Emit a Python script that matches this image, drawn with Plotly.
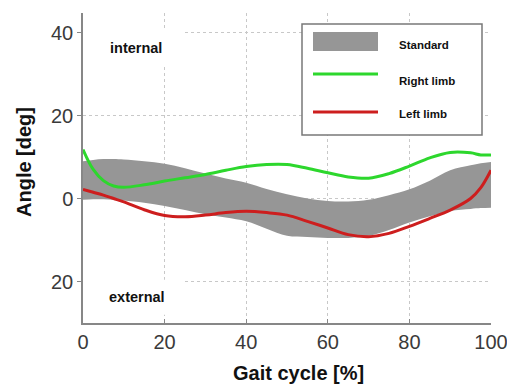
import plotly.graph_objects as go

# ---- data ----
gait_x = [0, 2.5, 5, 7.5, 10, 15, 20, 25, 30, 35, 40, 45, 50, 55, 60, 65, 70, 75, 80, 85, 90, 95, 97.5, 100]

right_limb = [11.8, 7.0, 4.3, 3.0, 2.7, 3.3, 4.2, 5.0, 5.8, 6.8, 7.7, 8.2, 8.2, 7.3, 6.2, 5.2, 4.9, 6.0, 7.8, 9.8, 11.1, 11.0, 10.5, 10.5]
left_limb = [2.2, 1.5, 0.8, 0.0, -0.8, -2.7, -4.1, -4.4, -4.0, -3.4, -3.1, -3.4, -4.0, -5.5, -7.1, -8.7, -9.2, -8.4, -6.7, -4.8, -2.8, 0.0, 2.6, 6.8]
standard_upper = [9.0, 9.3, 9.5, 9.5, 9.4, 9.0, 8.4, 7.3, 6.0, 4.8, 3.8, 2.3, 1.0, 0.0, -0.6, -0.7, -0.3, 0.8, 2.2, 4.3, 6.8, 8.0, 8.5, 8.8]
standard_lower = [-0.3, -0.2, -0.2, -0.3, -0.5, -1.0, -1.8, -2.8, -3.8, -4.6, -5.5, -7.3, -9.0, -9.3, -9.5, -9.5, -9.0, -7.6, -5.8, -4.3, -3.0, -2.5, -2.3, -2.2]

x_ticks = [0, 20, 40, 60, 80, 100]
y_ticks = [-20, 0, 20, 40]
y_ticklabels = ["20", "0", "20", "40"]

series_names = ["Standard", "Right limb", "Left limb"]
GRAY = "rgb(150,150,150)"
GREEN = "rgb(45,215,45)"
RED = "rgb(205,30,30)"

# ---- layout geometry ----
W, H = 507, 385
ML, MR, MT, MB = 83, 16, 13, 62
PW, PH = W - ML - MR, H - MT - MB


def px(xp):
    return (xp - ML) / PW


def py(yp):
    return (H - MB - yp) / PH


FONT = "Liberation Sans, Arial, sans-serif"

fig = go.Figure()
fig.add_trace(go.Scatter(x=gait_x, y=standard_lower, mode="lines", line=dict(width=0, shape="spline"),
                         hoverinfo="skip", showlegend=False))
fig.add_trace(go.Scatter(x=gait_x, y=standard_upper, mode="lines", line=dict(width=0, shape="spline"),
                         fill="tonexty", fillcolor=GRAY, name=series_names[0], showlegend=False))
fig.add_trace(go.Scatter(x=gait_x, y=right_limb, mode="lines", line=dict(color=GREEN, width=3, shape="spline"),
                         name=series_names[1], showlegend=False))
fig.add_trace(go.Scatter(x=gait_x, y=left_limb, mode="lines", line=dict(color=RED, width=3, shape="spline"),
                         name=series_names[2], showlegend=False))

shapes = []
# white boxes behind the "internal"/"external" labels (cover gridlines)
shapes.append(dict(type="rect", xref="x", yref="y", x0=0, x1=25, y0=32.3, y1=40.6,
                   fillcolor="white", line=dict(width=0), layer="between"))
shapes.append(dict(type="rect", xref="x", yref="y", x0=0, x1=25, y0=-28, y1=-19.6,
                   fillcolor="white", line=dict(width=0), layer="between"))

# manual legend
shapes.append(dict(type="rect", xref="paper", yref="paper", x0=px(302), x1=px(482), y0=py(135), y1=py(24),
                   fillcolor="white", line=dict(color="rgb(120,120,120)", width=1.5), layer="above"))
shapes.append(dict(type="rect", xref="paper", yref="paper", x0=px(313), x1=px(378), y0=py(51), y1=py(32),
                   fillcolor=GRAY, line=dict(width=0), layer="above"))
shapes.append(dict(type="line", xref="paper", yref="paper", x0=px(313), x1=px(378), y0=py(74), y1=py(74),
                   line=dict(color=GREEN, width=3), layer="above"))
shapes.append(dict(type="line", xref="paper", yref="paper", x0=px(313), x1=px(378), y0=py(112), y1=py(112),
                   line=dict(color=RED, width=3), layer="above"))

annotations = []
for name, yp in zip(series_names, [45, 81, 114]):
    annotations.append(dict(text="<b>%s</b>" % name, xref="paper", yref="paper", x=px(397), y=py(yp),
                            xanchor="left", yanchor="middle", showarrow=False,
                            font=dict(family=FONT, size=11.5, color="#111")))

annotations.append(dict(text="<b>internal</b>", xref="paper", yref="paper", x=px(136), y=py(48),
                        xanchor="center", yanchor="middle", showarrow=False,
                        font=dict(family=FONT, size=14.5, color="#111")))
annotations.append(dict(text="<b>external</b>", xref="paper", yref="paper", x=px(137), y=py(297),
                        xanchor="center", yanchor="middle", showarrow=False,
                        font=dict(family=FONT, size=14.5, color="#111")))
# axis titles
annotations.append(dict(text="<b>Angle [deg]</b>", xref="paper", yref="paper", x=px(24), y=py(162),
                        xanchor="center", yanchor="middle", textangle=-90, showarrow=False,
                        font=dict(family=FONT, size=20, color="#111")))
annotations.append(dict(text="<b>Gait cycle [%]</b>", xref="paper", yref="paper", x=px(298), y=py(373),
                        xanchor="center", yanchor="middle", showarrow=False,
                        font=dict(family=FONT, size=20, color="#111")))

fig.update_layout(
    width=W, height=H,
    margin=dict(l=ML, r=MR, t=MT, b=MB, autoexpand=False),
    paper_bgcolor="white", plot_bgcolor="white",
    showlegend=False,
    shapes=shapes, annotations=annotations,
    font=dict(family=FONT),
)
fig.update_xaxes(range=[0, 100], tickvals=x_ticks, showgrid=True, gridcolor="rgb(200,200,200)", griddash="dot",
                 gridwidth=1, zeroline=False, showline=True, linecolor="rgb(135,135,135)", linewidth=1.5,
                 ticks="inside", ticklen=4, tickcolor="rgb(135,135,135)", ticklabeloverflow="allow",
                 automargin=False, tickfont=dict(family=FONT, size=20, color="#3a3a3a"))
fig.update_yaxes(range=[-30, 44.7], tickvals=y_ticks, ticktext=y_ticklabels, showgrid=True,
                 gridcolor="rgb(200,200,200)", griddash="dot", gridwidth=1, zeroline=False,
                 showline=True, linecolor="rgb(135,135,135)", linewidth=1.5,
                 ticks="outside", ticklen=4, tickcolor="rgb(135,135,135)", automargin=False,
                 tickfont=dict(family=FONT, size=20, color="#3a3a3a"))

fig.write_html("out.html", config={"displayModeBar": False},
               post_script="document.body.style.margin='0';document.body.style.overflow='hidden';")
